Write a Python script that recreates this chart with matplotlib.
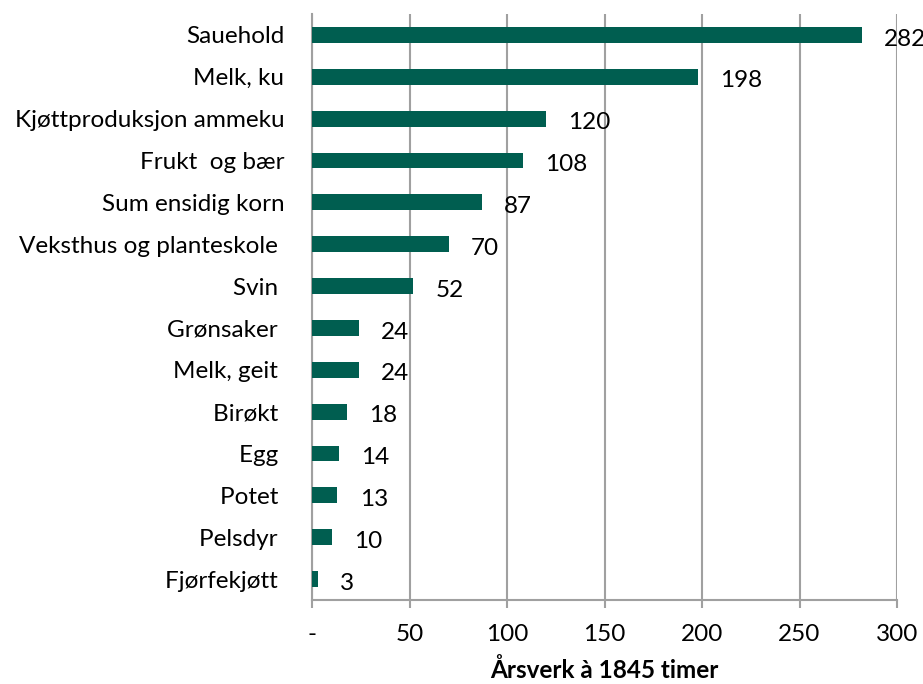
import matplotlib.pyplot as plt
import numpy as np

categories = ["Sauehold", "Melk, ku", "Kjøttproduksjon ammeku", "Frukt  og bær",
              "Sum ensidig korn", "Veksthus og planteskole ", "Svin ", "Grønsaker ",
              "Melk, geit ", "Birøkt ", "Egg ", "Potet ", "Pelsdyr ", "Fjørfekjøtt "]
values = [282, 198, 120, 108, 87, 70, 52, 24, 24, 18, 14, 13, 10, 3]
tick_values = [0, 50, 100, 150, 200, 250, 300]
tick_labels = ["-", "50", "100", "150", "200", "250", "300"]

green = "#005E50"
grid = "#A0A0A0"
fs = 17.5

plt.rcParams["font.family"] = ["Lato", "DejaVu Sans"]

fig = plt.figure(figsize=(9.23, 6.84), dpi=100)
ax = fig.add_axes([312 / 923, 84 / 684, 585 / 923, 586 / 684])

y = np.arange(len(categories))
ax.barh(y, values, height=0.38, color=green, zorder=3)

for yi, v in zip(y, values):
    ax.annotate(str(v), (v, yi), xytext=(16, -3), textcoords="offset points",
                va="center", ha="left", fontsize=fs, color="black", zorder=4)

ax.set_xlim(0, 300)
ax.set_ylim(len(categories) - 0.5, -0.5)
ax.set_xticks(tick_values)
ax.set_xticklabels(tick_labels, fontsize=fs)
ax.set_yticks(y)
ax.set_yticklabels(categories, fontsize=fs)
ax.tick_params(axis="y", length=0, pad=20)
ax.tick_params(axis="x", length=6, width=1.5, color=grid, pad=11)

ax.xaxis.grid(True, color=grid, linewidth=1.5, zorder=0)
for s in ["top", "right"]:
    ax.spines[s].set_visible(False)
for s in ["left", "bottom"]:
    ax.spines[s].set_color(grid)
    ax.spines[s].set_linewidth(1.5)

ax.set_xlabel("Årsverk à 1845 timer", fontsize=fs, fontweight="bold", labelpad=10)

fig.savefig("out.png", dpi=100)
